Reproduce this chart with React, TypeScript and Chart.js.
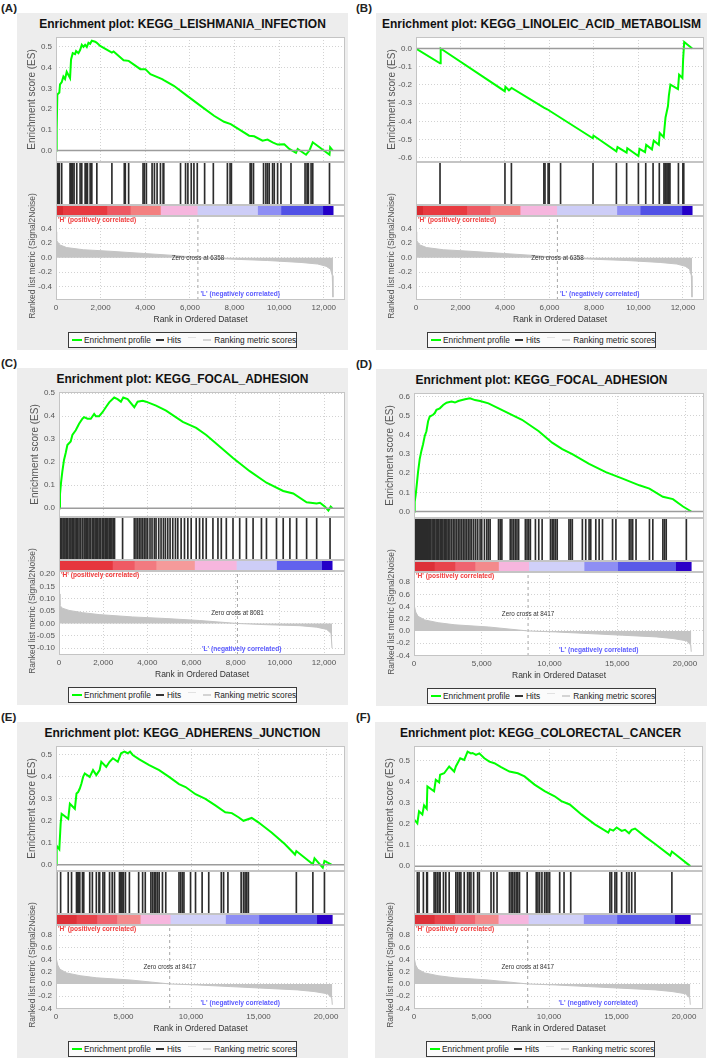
import React, { useEffect, useRef } from 'react';
import { Chart, registerables } from 'chart.js';

Chart.register(...registerables);

const FONT = "'Liberation Sans', Arial, Helvetica, sans-serif";
type Pt = [number, number];

// ---------------- axis tick labels ----------------
const xTicks12k = [0, 2000, 4000, 6000, 8000, 10000, 12000];
const xTicks20k = [0, 5000, 10000, 15000, 20000];
const esTicks05 = [0, 0.1, 0.2, 0.3, 0.4, 0.5];
const esTicks06 = [0, 0.1, 0.2, 0.3, 0.4, 0.5, 0.6];
const esTicksNeg = [-0.6, -0.5, -0.4, -0.3, -0.2, -0.1, 0];
const metricTicksAB = [-0.4, -0.2, 0, 0.2, 0.4];
const metricTicksC = [-0.1, -0.05, 0, 0.05, 0.1, 0.15, 0.2];
const metricTicksDEF = [-0.4, -0.2, 0, 0.2, 0.4, 0.6, 0.8];

// ---------------- ranked list metric (Signal2Noise) ----------------
const metricAB: Pt[] = [[0, 0.36], [30, 0.24], [150, 0.18], [480, 0.14], [1230, 0.11], [2430, 0.089], [3930, 0.058], [5280, 0.031], [6358, 0], [7980, -0.022], [9480, -0.04], [10980, -0.067], [11730, -0.089], [12105, -0.12], [12300, -0.16], [12380, -0.25], [12410, -0.55]];
const metricC: Pt[] = [[0, 0.12], [45, 0.073], [152, 0.062], [455, 0.053], [1061, 0.044], [1818, 0.036], [3333, 0.0265], [4848, 0.02], [6364, 0.012], [8081, 0], [9394, -0.005], [10909, -0.009], [11667, -0.015], [12121, -0.024], [12318, -0.04], [12364, -0.1]];
const metricDEF: Pt[] = [[0, 0.44], [124, 0.31], [297, 0.24], [792, 0.18], [1782, 0.135], [3020, 0.1], [5495, 0.065], [8417, 0], [10445, -0.016], [12920, -0.043], [15395, -0.07], [17870, -0.097], [19107, -0.124], [20097, -0.16], [20419, -0.23], [20460, -0.34]];

// ---------------- colour bars (heat of ranked metric) ----------------
const barEdgesAB = [0, 300, 2280, 3330, 4680, 6330, 9030, 10080, 11955, 12420];
const barColorsAB = ['#d92a30', '#e83a40', '#ee5862', '#f38080', '#f6b6de', '#cdcdf7', '#8e8ef4', '#5252e6', '#2400c8'];
const barEdgesC = [0, 2424, 3409, 4394, 6136, 8030, 9848, 11894, 12370];
const barColorsC = ['#e6363e', '#ef5a64', '#f27a80', '#f59a9a', '#f6b6de', '#cdcdf7', '#6262ee', '#2400c8'];
const barEdgesDEF = [0, 1500, 3020, 4500, 6237, 8465, 12549, 15024, 19305, 20460];
const barColorsDEF = ['#dd3038', '#e8444c', '#ef6470', '#f38a8c', '#f6b6de', '#d0d0f8', '#8e8ef4', '#5a5ae8', '#2a00c8'];

// ---------------- enrichment score curves ----------------
const esA: Pt[] = [[0, 0], [30, 0.1], [60, 0.27], [150, 0.28], [180, 0.32], [255, 0.33], [330, 0.357], [405, 0.345], [480, 0.38], [630, 0.35], [675, 0.44], [750, 0.47], [855, 0.465], [900, 0.48], [1005, 0.47], [1080, 0.485], [1155, 0.51], [1230, 0.5], [1305, 0.51], [1380, 0.5], [1455, 0.52], [1530, 0.515], [1605, 0.53], [1755, 0.525], [1830, 0.52], [1980, 0.505], [2505, 0.473], [2580, 0.478], [3030, 0.436], [3255, 0.433], [3780, 0.393], [4005, 0.393], [4230, 0.369], [4755, 0.345], [4830, 0.34], [5280, 0.3125], [5880, 0.264], [6480, 0.216], [7080, 0.168], [7530, 0.139], [7830, 0.128], [8655, 0.072], [8880, 0.069], [9255, 0.048], [9480, 0.053], [9705, 0.04], [9930, 0.029], [10230, 0.03], [10455, 0.008], [10755, -0.011], [10830, 0.008], [11205, -0.02], [11355, 0], [11505, 0.04], [12255, -0.02], [12285, 0.016], [12405, 0]];
const esB: Pt[] = [[0, 0], [1080, -0.081], [1110, 0], [3990, -0.234], [4020, -0.21], [4180, -0.229], [4300, -0.216], [5750, -0.324], [5900, -0.333], [7950, -0.492], [7980, -0.477], [9010, -0.564], [9060, -0.54], [9470, -0.571], [9500, -0.546], [10000, -0.589], [10050, -0.55], [10300, -0.568], [10350, -0.528], [10610, -0.553], [10690, -0.505], [10920, -0.528], [10960, -0.463], [11140, -0.486], [11170, -0.441], [11220, -0.378], [11330, -0.315], [11370, -0.258], [11440, -0.198], [11780, -0.222], [11830, -0.144], [11980, -0.162], [12010, -0.063], [12060, 0.036], [12420, 0]];
const esC: Pt[] = [[0, 0], [45, 0.061], [91, 0.11], [152, 0.16], [227, 0.21], [303, 0.24], [379, 0.275], [530, 0.29], [606, 0.318], [758, 0.339], [909, 0.367], [1061, 0.389], [1136, 0.396], [1288, 0.389], [1440, 0.389], [1591, 0.41], [1667, 0.4], [1818, 0.4], [1970, 0.417], [2121, 0.439], [2273, 0.46], [2500, 0.481], [2651, 0.474], [2803, 0.463], [2909, 0.481], [3106, 0.474], [3409, 0.439], [3560, 0.463], [3788, 0.467], [3939, 0.463], [4394, 0.446], [4848, 0.424], [5606, 0.375], [6212, 0.349], [6667, 0.318], [7273, 0.268], [7879, 0.218], [8636, 0.161], [9394, 0.111], [10152, 0.075], [10606, 0.064], [11212, 0.026], [11667, 0.021], [11818, 0.024], [12045, 0.007], [12197, -0.01], [12303, 0.007], [12380, 0]];
const esD: Pt[] = [[0, 0], [50, 0.05], [124, 0.086], [198, 0.137], [297, 0.206], [421, 0.274], [545, 0.317], [668, 0.352], [792, 0.395], [916, 0.42], [1040, 0.472], [1163, 0.497], [1411, 0.506], [1535, 0.515], [1658, 0.532], [1906, 0.54], [2153, 0.557], [2401, 0.569], [2772, 0.575], [3020, 0.57], [3267, 0.578], [3762, 0.587], [4133, 0.592], [4505, 0.583], [4876, 0.578], [5495, 0.566], [6732, 0.523], [7970, 0.48], [9207, 0.42], [10197, 0.36], [10940, 0.326], [11682, 0.3], [12920, 0.249], [14157, 0.206], [15395, 0.172], [16632, 0.137], [17375, 0.12], [18365, 0.077], [19107, 0.065], [19850, 0.026], [20460, 0]];
const esE: Pt[] = [[0, 0], [49, 0.086], [245, 0.07], [343, 0.186], [416, 0.232], [906, 0.209], [1028, 0.278], [1395, 0.255], [1518, 0.324], [1640, 0.331], [1763, 0.347], [1885, 0.37], [2007, 0.4], [2130, 0.416], [2497, 0.4], [2742, 0.431], [2987, 0.408], [3231, 0.431], [3354, 0.469], [3721, 0.446], [3966, 0.469], [4211, 0.485], [4578, 0.469], [4823, 0.508], [5067, 0.515], [5312, 0.508], [5484, 0.515], [5680, 0.5], [6169, 0.48], [6903, 0.454], [7638, 0.431], [8372, 0.4], [9107, 0.367], [9596, 0.354], [10331, 0.321], [11065, 0.3], [11799, 0.27], [12534, 0.239], [13023, 0.235], [13513, 0.216], [13880, 0.2], [14492, 0.213], [14982, 0.193], [15961, 0.147], [16940, 0.094], [17700, 0.046], [17797, 0.062], [19021, 0.0015], [19143, 0.029], [19755, -0.014], [19878, 0.017], [20400, 0]];
const esF: Pt[] = [[0, 0.222], [248, 0.203], [372, 0.26], [620, 0.245], [744, 0.288], [942, 0.272], [992, 0.378], [1488, 0.355], [1612, 0.409], [1860, 0.397], [1934, 0.433], [2232, 0.44], [2604, 0.472], [2976, 0.448], [3100, 0.472], [3422, 0.511], [3720, 0.503], [3968, 0.542], [4216, 0.534], [4340, 0.536], [4588, 0.527], [4836, 0.534], [5208, 0.511], [5580, 0.495], [5952, 0.4875], [6448, 0.469], [7068, 0.448], [7688, 0.44], [8184, 0.425], [8928, 0.386], [9672, 0.355], [10416, 0.331], [10912, 0.308], [11532, 0.292], [12400, 0.245], [13392, 0.198], [14384, 0.159], [14508, 0.175], [14756, 0.168], [15004, 0.183], [15376, 0.167], [15624, 0.172], [15922, 0.156], [16120, 0.172], [16368, 0.178], [17112, 0.14], [17856, 0.105], [18972, 0.05], [19096, 0.069], [20460, 0]];

// ---------------- hit positions (rank of each gene-set member) ----------------
const hitsA = [30, 60, 105, 150, 255, 630, 660, 705, 750, 810, 930, 1080, 1155, 1305, 1350, 1410, 1530, 1605, 1830, 2505, 3060, 3105, 3255, 3900, 3960, 4050, 4305, 4410, 4530, 4680, 4800, 4830, 5580, 5805, 5910, 6060, 6180, 6330, 6660, 7050, 7680, 7800, 7860, 8700, 8760, 8850, 9300, 9405, 9480, 9555, 9705, 9780, 9930, 10080, 10530, 11160, 11250, 11280, 11310, 11430, 11505, 12255];
const hitsB = [1080, 4000, 4290, 5750, 5800, 5940, 5990, 6500, 7960, 9010, 9470, 10000, 10330, 10660, 10940, 11150, 11200, 11240, 11290, 11340, 11380, 11420, 11800, 12000, 12040];
const hitsC = [30, 76, 121, 182, 227, 273, 333, 379, 455, 500, 545, 606, 667, 727, 788, 848, 909, 985, 1061, 1136, 1182, 1242, 1303, 1364, 1439, 1515, 1576, 1636, 1697, 1757, 1818, 1894, 1970, 2030, 2091, 2151, 2212, 2273, 2333, 2394, 2454, 2515, 2879, 3409, 3485, 3561, 3636, 3712, 3788, 3864, 3939, 4015, 4121, 4212, 4318, 4394, 4515, 4621, 4727, 4818, 4924, 5030, 5151, 5273, 5379, 5530, 5682, 5833, 5985, 6212, 6364, 6515, 6667, 6970, 7197, 7349, 7576, 7879, 8182, 8485, 8788, 9167, 9394, 9848, 10152, 10455, 10758, 11212, 11667, 12273];
const hitsD = [50, 124, 198, 272, 347, 421, 495, 569, 644, 718, 792, 866, 941, 1015, 1089, 1163, 1238, 1337, 1436, 1535, 1634, 1733, 1832, 1931, 2030, 2129, 2228, 2327, 2426, 2525, 2648, 2772, 2896, 3020, 3143, 3267, 3391, 3515, 3638, 3762, 3886, 4010, 4133, 4257, 4406, 4554, 4703, 4876, 5000, 5198, 5371, 5495, 5618, 6237, 6361, 6485, 7103, 7227, 7351, 7475, 7598, 7722, 8217, 8341, 8465, 8588, 8960, 9207, 9455, 10073, 10197, 10321, 10445, 10568, 11435, 11558, 11682, 12425, 12672, 12920, 13043, 13415, 13662, 13910, 14652, 14900, 15890, 16013, 16137, 16385, 17375, 17622, 18365, 18488, 18612, 20097];
const hitsE = [49, 343, 906, 1151, 1518, 1591, 1665, 1763, 1958, 2056, 2497, 2693, 2987, 3182, 3231, 3476, 3598, 3966, 4162, 4333, 4700, 4749, 4823, 4896, 4994, 5141, 5435, 6120, 6414, 6610, 7026, 7148, 7271, 7393, 7515, 7638, 7883, 8127, 9107, 9229, 9351, 9474, 9963, 10331, 10820, 11310, 12240, 12411, 12730, 13709, 13880, 14003, 14125, 14247, 17797, 19021, 19878];
const hitsF = [0, 248, 372, 694, 942, 992, 1488, 1612, 1736, 1860, 1934, 2182, 2356, 2604, 3100, 3224, 3348, 3472, 3720, 3968, 4092, 4216, 4414, 4712, 4836, 5704, 5902, 6150, 7068, 7192, 7316, 7440, 7564, 7688, 7812, 8382, 9052, 9176, 9300, 9474, 9672, 9796, 9920, 10044, 10788, 11110, 11606, 14508, 14632, 14880, 15004, 15376, 15748, 15922, 16120, 16368, 19096];

interface Spec {
  label: string; title: string; left: number; top: number; plotLeft: number;
  xMax: number; xTicks: number[];
  es: Pt[]; esMin: number; esMax: number; esTicks: number[];
  hits: number[]; barEdges: number[]; barColors: string[];
  metric: Pt[]; mMin: number; mMax: number; mTicks: number[]; mDec: number;
  zeroCross: number;
}

const panels: Spec[] = [
  { label: '(A)', title: 'Enrichment plot: KEGG_LEISHMANIA_INFECTION', left: 17, top: 13, plotLeft: 39, xMax: 12950, xTicks: xTicks12k, es: esA, esMin: -0.055, esMax: 0.548, esTicks: esTicks05, hits: hitsA, barEdges: barEdgesAB, barColors: barColorsAB, metric: metricAB, mMin: -0.59, mMax: 0.58, mTicks: metricTicksAB, mDec: 1, zeroCross: 6358 },
  { label: '(B)', title: 'Enrichment plot: KEGG_LINOLEIC_ACID_METABOLISM', left: 376, top: 13, plotLeft: 40, xMax: 12950, xTicks: xTicks12k, es: esB, esMin: -0.622, esMax: 0.063, esTicks: esTicksNeg, hits: hitsB, barEdges: barEdgesAB, barColors: barColorsAB, metric: metricAB, mMin: -0.59, mMax: 0.58, mTicks: metricTicksAB, mDec: 1, zeroCross: 6358 },
  { label: '(C)', title: 'Enrichment plot: KEGG_FOCAL_ADHESION', left: 17, top: 368, plotLeft: 42, xMax: 12950, xTicks: xTicks12k, es: esC, esMin: -0.038, esMax: 0.505, esTicks: esTicks05, hits: hitsC, barEdges: barEdgesC, barColors: barColorsC, metric: metricC, mMin: -0.128, mMax: 0.213, mTicks: metricTicksC, mDec: 2, zeroCross: 8081 },
  { label: '(D)', title: 'Enrichment plot: KEGG_FOCAL_ADHESION', left: 376, top: 369, plotLeft: 38, xMax: 21400, xTicks: xTicks20k, es: esD, esMin: -0.034, esMax: 0.62, esTicks: esTicks06, hits: hitsD, barEdges: barEdgesDEF, barColors: barColorsDEF, metric: metricDEF, mMin: -0.41, mMax: 0.965, mTicks: metricTicksDEF, mDec: 1, zeroCross: 8417 },
  { label: '(E)', title: 'Enrichment plot: KEGG_ADHERENS_JUNCTION', left: 17, top: 722, plotLeft: 39, xMax: 21400, xTicks: xTicks20k, es: esE, esMin: -0.029, esMax: 0.541, esTicks: esTicks05, hits: hitsE, barEdges: barEdgesDEF, barColors: barColorsDEF, metric: metricDEF, mMin: -0.41, mMax: 0.965, mTicks: metricTicksDEF, mDec: 1, zeroCross: 8417 },
  { label: '(F)', title: 'Enrichment plot: KEGG_COLORECTAL_CANCER', left: 375, top: 722, plotLeft: 39, xMax: 21400, xTicks: xTicks20k, es: esF, esMin: -0.023, esMax: 0.569, esTicks: esTicks05, hits: hitsF, barEdges: barEdgesDEF, barColors: barColorsDEF, metric: metricDEF, mMin: -0.41, mMax: 0.965, mTicks: metricTicksDEF, mDec: 1, zeroCross: 8417 },
];

const W = 331;
const H = 337;
const GRID = '#d2d2d2';
const TICK_COLOR = '#555';

const framePlugin = {
  id: 'frame',
  beforeDraw(chart: any) {
    const { ctx, chartArea: a } = chart;
    ctx.save();
    ctx.fillStyle = '#ffffff';
    ctx.fillRect(a.left, a.top, a.right - a.left, a.bottom - a.top);
    ctx.restore();
  },
  afterDraw(chart: any) {
    const { ctx, chartArea: a } = chart;
    ctx.save();
    ctx.strokeStyle = '#c4c4c4';
    ctx.lineWidth = 1;
    ctx.strokeRect(Math.round(a.left) + 0.5, Math.round(a.top) + 0.5, Math.round(a.right - a.left) - 1, Math.round(a.bottom - a.top) - 1);
    ctx.restore();
  },
};

const setTicks = (vals: number[]) => (scale: any) => {
  scale.ticks = vals.map((v) => ({ value: v }));
};
const fixY = (w: number) => (scale: any) => {
  scale.width = w;
  scale.paddingTop = 0;
  scale.paddingBottom = 0;
};
const fixX = (h: number) => (scale: any) => {
  scale.height = h;
  scale.paddingLeft = 0;
  scale.paddingRight = 0;
};

const baseOpts = {
  responsive: false,
  animation: false as const,
  devicePixelRatio: 1,
  events: [] as any[],
  plugins: { legend: { display: false }, tooltip: { enabled: false } },
};

// metric canvas starts this many px above the metric plot so its long y title fits
const MET_TOP = 150;
const MET_PLOT_TOP = 203;

function Panel({ s }: { s: Spec }) {
  const esRef = useRef<HTMLCanvasElement>(null);
  const hitsRef = useRef<HTMLCanvasElement>(null);
  const barRef = useRef<HTMLCanvasElement>(null);
  const metRef = useRef<HTMLCanvasElement>(null);

  useEffect(() => {
    const charts: Chart[] = [];
    const xGrid = { color: GRID, drawTicks: false, lineWidth: 1 };
    const dotted = { display: false, dash: [1, 2] };

    charts.push(new Chart(esRef.current!, {
      type: 'line',
      data: {
        datasets: [
          { data: [{ x: 0, y: 0 }, { x: s.xMax, y: 0 }], borderColor: '#9c9c9c', borderWidth: 1.5, pointRadius: 0 },
          { data: s.es.map(([x, y]) => ({ x, y })), borderColor: '#00ff00', borderWidth: 2, pointRadius: 0, tension: 0 },
        ],
      },
      options: {
        ...baseOpts,
        layout: { padding: { left: 0, right: 3, top: 10, bottom: 5 } },
        scales: {
          x: { type: 'linear', min: 0, max: s.xMax, afterBuildTicks: setTicks(s.xTicks), afterFit: fixX(0), ticks: { display: false }, grid: xGrid, border: dotted },
          y: {
            type: 'linear', min: s.esMin, max: s.esMax, afterBuildTicks: setTicks(s.esTicks), afterFit: fixY(s.plotLeft),
            ticks: { font: { family: FONT, size: 8 }, color: TICK_COLOR, padding: 4, callback: (v: any) => Number(v).toFixed(1) },
            grid: { color: GRID, drawTicks: false }, border: dotted,
            title: { display: true, text: 'Enrichment score (ES)', font: { family: FONT, size: 10 }, color: '#555', padding: { top: 9 + (s.plotLeft - 39), bottom: 0 } },
          },
        },
      } as any,
      plugins: [framePlugin],
    }));

    charts.push(new Chart(hitsRef.current!, {
      type: 'bar',
      data: { datasets: [{ data: s.hits.map((r) => ({ x: r, y: 1 })), backgroundColor: '#2c2c2c', barThickness: 1, borderWidth: 0 }] },
      options: {
        ...baseOpts,
        layout: { padding: { left: s.plotLeft, right: 3, top: 0, bottom: 0 } },
        scales: {
          x: { type: 'linear', min: 0, max: s.xMax, display: false, offset: false, grid: { offset: false } },
          y: { type: 'linear', min: 0, max: 1, display: false },
        },
      } as any,
      plugins: [framePlugin],
    }));

    charts.push(new Chart(barRef.current!, {
      type: 'bar',
      data: {
        labels: ['metric'],
        datasets: s.barColors.map((c, i) => ({
          data: [[s.barEdges[i], s.barEdges[i + 1]]], backgroundColor: c, borderWidth: 0,
          barPercentage: 1, categoryPercentage: 1, grouped: false,
        })),
      },
      options: {
        ...baseOpts,
        indexAxis: 'y',
        layout: { padding: { left: s.plotLeft, right: 3, top: 0, bottom: 0 } },
        scales: {
          x: { type: 'linear', min: 0, max: s.xMax, display: false },
          y: { display: false },
        },
      } as any,
      plugins: [framePlugin],
    }));

    const textPlugin = {
      id: 'gseaText',
      afterDatasetsDraw(chart: any) {
        const { ctx, chartArea: a, scales } = chart;
        ctx.save();
        ctx.textBaseline = 'middle';
        ctx.textAlign = 'left';
        ctx.font = `bold 6.6px ${FONT}`;
        ctx.fillStyle = '#f03c3c';
        ctx.fillText("'H' (positively correlated)", a.left + 2, a.top + 4);
        ctx.fillStyle = '#5a5aff';
        ctx.fillText("'L' (negatively correlated)", (a.left + a.right) / 2, a.bottom - 6);
        ctx.font = `6.3px ${FONT}`;
        ctx.fillStyle = '#333';
        ctx.textAlign = 'center';
        ctx.fillText(`Zero cross at ${s.zeroCross}`, scales.x.getPixelForValue(s.zeroCross), (a.top + a.bottom) / 2);
        ctx.restore();
      },
      afterDraw(chart: any) {
        const { ctx, chartArea: a } = chart;
        ctx.save();
        ctx.translate(15.3, (a.top + a.bottom) / 2 - 2);
        ctx.rotate(-Math.PI / 2);
        ctx.font = `8.5px ${FONT}`;
        ctx.fillStyle = '#555';
        ctx.textAlign = 'center';
        ctx.textBaseline = 'middle';
        ctx.fillText('Ranked list metric (Signal2Noise)', 0, 0);
        ctx.restore();
      },
    };

    charts.push(new Chart(metRef.current!, {
      type: 'line',
      data: {
        datasets: [
          { data: s.metric.map(([x, y]) => ({ x, y })), fill: 'origin', backgroundColor: '#c4c4c4', borderColor: '#c4c4c4', borderWidth: 1, pointRadius: 0, tension: 0 },
          { data: [{ x: s.zeroCross, y: s.mMin }, { x: s.zeroCross, y: s.mMax }], borderColor: '#a8a8a8', borderWidth: 1, borderDash: [3, 3], pointRadius: 0 },
        ],
      },
      options: {
        ...baseOpts,
        layout: { padding: { left: 0, right: 3, top: MET_PLOT_TOP - MET_TOP, bottom: 0 } },
        scales: {
          x: {
            type: 'linear', min: 0, max: s.xMax, afterBuildTicks: setTicks(s.xTicks), afterFit: fixX(28),
            ticks: { font: { family: FONT, size: 8 }, color: TICK_COLOR, padding: 3, maxRotation: 0, autoSkip: false, callback: (v: any) => Number(v).toLocaleString('en-US') },
            grid: xGrid, border: dotted,
            title: { display: true, text: 'Rank in Ordered Dataset', font: { family: FONT, size: 8.5 }, color: '#333', padding: { top: 0, bottom: 3 } },
          },
          y: {
            type: 'linear', min: s.mMin, max: s.mMax, afterBuildTicks: setTicks(s.mTicks), afterFit: fixY(s.plotLeft),
            ticks: { font: { family: FONT, size: 8 }, color: TICK_COLOR, padding: 4, callback: (v: any) => Number(v).toFixed(s.mDec) },
            grid: { color: GRID, drawTicks: false }, border: dotted,
          },
        },
      } as any,
      plugins: [framePlugin, textPlugin],
    }));

    return () => charts.forEach((c) => c.destroy());
  }, [s]);

  const cv = (top: number, h: number): React.CSSProperties => ({ position: 'absolute', left: 0, top, width: W, height: h });
  const line = (w: number, h: number, bg: string, extra: React.CSSProperties = {}): React.CSSProperties => ({ display: 'inline-block', width: w, height: h, background: bg, flex: 'none', ...extra });

  return (
    <>
      <div style={{ position: 'absolute', left: s.left < 100 ? 1 : 356, top: s.top - 12, font: `bold 11.5px ${FONT}`, color: '#222', lineHeight: '14px' }}>{s.label}</div>
      <div style={{ position: 'absolute', left: s.left, top: s.top, width: W, height: H, background: '#ededed' }}>
        <div style={{ position: 'absolute', left: 0, top: 4, width: W, textAlign: 'center', font: `bold 12px ${FONT}`, color: '#111', lineHeight: '14px', whiteSpace: 'nowrap' }}>{s.title}</div>
        <canvas ref={esRef} width={W} height={140} style={cv(14, 140)} />
        <canvas ref={hitsRef} width={W} height={43} style={cv(149, 43)} />
        <canvas ref={barRef} width={W} height={11} style={cv(192, 11)} />
        <canvas ref={metRef} width={W} height={315 - MET_TOP} style={cv(MET_TOP, 315 - MET_TOP)} />
        <div style={{ position: 'absolute', left: 51, top: 319, width: 229, height: 16, boxSizing: 'border-box', border: '1px solid #3a3a3a', background: '#fbfbfb', display: 'flex', alignItems: 'center', paddingLeft: 3, font: `8.3px ${FONT}`, color: '#222', whiteSpace: 'nowrap' }}>
          <span style={line(10, 2, '#00ff00', { marginRight: 2 })} />
          <span>Enrichment profile</span>
          <span style={line(8, 1.5, '#333', { marginLeft: 5, marginRight: 3 })} />
          <span>Hits</span>
          <span style={line(8, 1, '#e2e2e2', { marginLeft: 7, position: 'relative', top: -3 })} />
          <span style={line(8, 1.5, '#d4d4d4', { marginLeft: 7, marginRight: 3 })} />
          <span>Ranking metric scores</span>
        </div>
      </div>
    </>
  );
}

export default function App() {
  return (
    <div style={{ position: 'absolute', left: 0, top: 0, width: 709, height: 1058, background: '#ffffff', overflow: 'hidden' }}>
      {panels.map((p) => <Panel key={p.label} s={p} />)}
    </div>
  );
}
